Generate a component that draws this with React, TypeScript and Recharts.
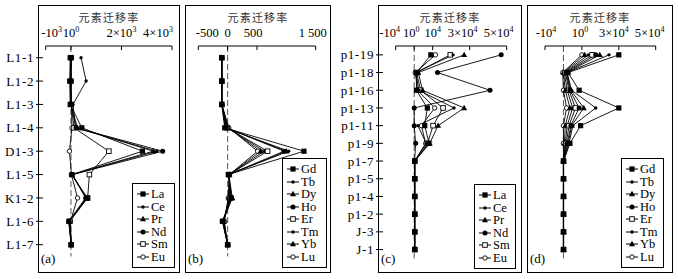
import { LineChart, Line, XAxis, YAxis, ReferenceLine, Legend } from "recharts";

const SERIF = "'Liberation Serif', 'Times New Roman', serif";
const CJK = "'Noto Sans CJK SC', sans-serif";

// sample sites, top to bottom
const SITES_AB = ["L1-1", "L1-2", "L1-3", "L1-4", "D1-3", "L1-5", "K1-2", "L1-6", "L1-7"];
const SITES_CD = ["p1-19", "p1-18", "p1-16", "p1-13", "p1-11", "p1-9", "p1-7", "p1-5", "p1-4", "p1-2", "J-3", "J-1"];

const LREE = ["La", "Ce", "Pr", "Nd", "Sm", "Eu"];
const HREE = ["Gd", "Tb", "Dy", "Ho", "Er", "Tm", "Yb", "Lu"];
const LREE_MARKS = ["sq", "dot", "tri", "circ", "osq", "ocirc"];
const HREE_MARKS = ["sq", "dot", "tri", "circ", "osq", "dot", "tri", "ocirc"];

// (a) light REE
const A_LA = [-30, -50, -30, 430, 2830, 40, 650, -80, 10];
const A_CE = [400, 600, 80, 180, 3400, 60, 600, -60, 10];
const A_PR = [-10, -20, -10, 260, 3260, 30, 620, -70, 10];
const A_ND = [0, -10, 0, 200, 3630, 50, 580, -90, 10];
const A_SM = [10, 0, 10, 120, 1500, 730, 660, -40, 10];
const A_EU = [20, 10, 20, 40, -60, 20, 260, -20, 10];

// (b) heavy REE
const B_GD = [-100, -100, -100, -50, 1300, 10, 60, -90, 0];
const B_TB = [-100, -100, -100, -40, 1040, 15, 70, -85, 0];
const B_DY = [-100, -100, -100, -30, 1000, 20, 80, -80, 0];
const B_HO = [-100, -100, -100, -20, 960, 20, 50, -80, 0];
const B_ER = [-100, -100, -100, -10, 680, 25, 40, -70, 0];
const B_TM = [-100, -100, -100, 0, 620, 25, 30, -70, 0];
const B_YB = [-100, -100, -100, 10, 560, 30, 20, -60, 0];
const B_LU = [-100, -100, -100, 20, 510, 30, 10, -60, 0];

// (c) light REE
const C_LA = [9000, 1500, 1200, 7100, 5700, 8000, 300, 300, 300, 300, 300, 300];
const C_CE = [21000, 800, 2500, 21500, 2000, 6500, 250, 250, 250, 250, 250, 250];
const C_PR = [27000, 2200, 4500, 27000, 12900, 8400, 300, 300, 300, 300, 300, 300];
const C_ND = [47000, 12600, 41000, 0, 0, 800, 200, 200, 200, 200, 200, 200];
const C_SM = [19500, 1200, 3500, 15600, 10200, 7200, 300, 300, 300, 300, 300, 300];
const C_EU = [11500, 600, 1800, 11100, 3900, 6200, 250, 250, 250, 250, 250, 250];

// (d) heavy REE
const D_GD = [30000, 2500, 8500, 30000, 9300, 3500, 100, 100, 100, 100, 100, 100];
const D_TB = [24700, 2000, 4400, 17500, 5100, 3000, 50, 50, 50, 50, 50, 50];
const D_DY = [19700, 1800, 4000, 11000, 4500, 2500, 50, 50, 50, 50, 50, 50];
const D_HO = [17500, 1500, 3500, 8500, 4000, 2000, 0, 0, 0, 0, 0, 0];
const D_ER = [15500, 1000, 3000, 6500, 3000, 1500, 0, 0, 0, 0, 0, 0];
const D_TM = [13500, 500, 2000, 5000, 2000, 1000, 0, 0, 0, 0, 0, 0];
const D_YB = [11500, 0, 1000, 3500, 1000, 500, 0, 0, 0, 0, 0, 0];
const D_LU = [10000, -400, 0, 1700, 0, 0, 0, 0, 0, 0, 0, 0];

// x ticks and their labels [base, superscript]
const A_TICKS = [-1000, 0, 2000, 4000];
const A_TICK_TEXT = [["-10", "3"], ["10", "0"], ["2×10", "3"], ["4×10", "3"]];
const B_TICKS = [-500, 0, 500, 1500];
const B_TICK_TEXT = [["-500", ""], ["0", ""], ["500", ""], ["1 500", ""]];
const C_TICKS = [-10000, 0, 10000, 30000, 50000];
const C_TICK_TEXT = [["-10", "4"], ["10", "0"], ["10", "4"], ["3×10", "4"], ["5×10", "4"]];
const D_TICKS = [-10000, 10000, 30000, 50000];
const D_TICK_TEXT = [["-10", "4"], ["10", "0"], ["3×10", "4"], ["5×10", "4"]];

const TITLE = "元素迁移率";

function buildRows(sites: string[], names: string[], cols: number[][]) {
  return sites.map((site, i) => {
    const row: Record<string, string | number> = { site };
    names.forEach((n, j) => (row[n] = cols[j][i]));
    return row;
  });
}

function Marker({ cx, cy, shape }: { cx?: number; cy?: number; shape: string }) {
  if (cx == null || cy == null) return null;
  switch (shape) {
    case "sq":
      return <rect x={cx - 2.6} y={cy - 2.6} width={5.2} height={5.2} fill="#000" />;
    case "osq":
      return <rect x={cx - 2.3} y={cy - 2.3} width={4.6} height={4.6} fill="#fff" stroke="#000" strokeWidth={0.9} />;
    case "tri":
      return <path d={`M${cx},${cy - 3.2}L${cx + 3},${cy + 2.2}L${cx - 3},${cy + 2.2}Z`} fill="#000" />;
    case "circ":
      return <circle cx={cx} cy={cy} r={2.5} fill="#000" />;
    case "dot":
      return <circle cx={cx} cy={cy} r={1.7} fill="#000" />;
    default:
      return <circle cx={cx} cy={cy} r={2.2} fill="#fff" stroke="#000" strokeWidth={0.9} />;
  }
}

function XTick(props: any) {
  const { x, y, payload, ticks, labels, shifts } = props;
  const i = ticks.indexOf(payload.value);
  const lab = labels[i] || ["", ""];
  return (
    <g>
      <line x1={x} x2={x} y1={y} y2={y + 4} stroke="#000" strokeWidth={1} />
      <text x={x + (shifts[i] || 0)} y={y - 9} textAnchor="middle" fontFamily={SERIF} fontSize={12.5} fill="#000">
        {lab[0]}
        {lab[1] ? (
          <tspan dy={-5} fontSize={8}>
            {lab[1]}
          </tspan>
        ) : null}
      </text>
    </g>
  );
}

function YTick(props: any) {
  const { x, y, payload, gap } = props;
  const fx = x - gap;
  return (
    <g>
      <line x1={fx - 2} x2={fx + 5} y1={y} y2={y} stroke="#000" strokeWidth={1} />
      <text x={fx - 4} y={y} dy="0.35em" textAnchor="end" fontFamily={SERIF} fontSize={13} letterSpacing={0.6} fill="#000">
        {payload.value}
      </text>
    </g>
  );
}

function LegendBox({ names, marks }: { names: string[]; marks: string[] }) {
  return (
    <div style={{ border: "1px solid #000", background: "#fff", boxSizing: "border-box", padding: "4px 0 4px 4px" }}>
      {names.map((n, i) => (
        <div key={n} style={{ display: "flex", alignItems: "center", height: 12.5, fontFamily: SERIF, fontSize: 12.5, lineHeight: "12.5px" }}>
          <svg width={12} height={8} style={{ display: "block" }}>
            <line x1={0} x2={12} y1={4} y2={4} stroke="#000" strokeWidth={1} />
            <Marker cx={6} cy={4} shape={marks[i]} />
          </svg>
          <span style={{ marginLeft: 2 }}>{n}</span>
        </div>
      ))}
    </div>
  );
}

type PanelProps = {
  rows: Record<string, string | number>[];
  names: string[];
  marks: string[];
  domain: [number, number];
  ticks: number[];
  labels: string[][];
  shifts: number[];
  svg: [number, number];
  frame: [number, number];
  plot: { left: number; right: number; top: number; bottom: number };
  legend: { left: number; top: number; width: number };
  tag: string;
};

function Panel(p: PanelProps) {
  const width = p.svg[1] - p.svg[0];
  const labelled = p.svg[0] < p.frame[0];
  const center = (p.frame[0] + p.frame[1]) / 2;
  const halfBand = (p.plot.bottom - p.plot.top) / p.rows.length / 2;
  // draw the first element last so its marker sits on top, as in the figure
  const order = p.names.map((n, i) => i).reverse();
  return (
    <>
      <div
        style={{
          position: "absolute",
          left: p.frame[0],
          top: 5,
          width: p.frame[1] - p.frame[0],
          height: 268,
          border: "1px solid #000",
          boxSizing: "border-box",
        }}
      />
      <div
        style={{
          position: "absolute",
          left: center - 45,
          width: 90,
          top: 9,
          textAlign: "center",
          fontFamily: CJK,
          fontSize: 11,
          lineHeight: "16px",
          letterSpacing: 1.2,
          color: "#333",
        }}
      >
        {TITLE}
      </div>
      <div style={{ position: "absolute", left: p.svg[0], top: 0 }}>
        <LineChart
          width={width}
          height={279}
          data={p.rows}
          layout="vertical"
          margin={{ top: 0, left: 0, right: p.svg[1] - p.plot.right, bottom: 279 - p.plot.bottom }}
        >
          <XAxis
            type="number"
            orientation="top"
            domain={p.domain}
            ticks={p.ticks}
            interval={0}
            allowDataOverflow
            height={p.plot.top}
            axisLine={{ stroke: "#000", strokeWidth: 1 }}
            tickLine={false}
            tickSize={0}
            tickMargin={0}
            tick={<XTick ticks={p.ticks} labels={p.labels} shifts={p.shifts} />}
          />
          <YAxis
            type="category"
            dataKey="site"
            width={p.plot.left - p.svg[0]}
            padding={{ top: halfBand, bottom: halfBand }}
            axisLine={false}
            tickLine={false}
            tickSize={0}
            tickMargin={0}
            interval={0}
            tick={labelled ? <YTick gap={p.plot.left - p.frame[0]} /> : false}
          />
          <ReferenceLine x={0} stroke="#555" strokeWidth={1} strokeDasharray="6 3" />
          {order.map((i) => {
            const n = p.names[i];
            return (
              <Line
                key={n}
                dataKey={n}
                stroke="#000"
                strokeWidth={0.9}
                activeDot={false}
                isAnimationActive={false}
                dot={(d: any) => <Marker key={`${n}-${d.index}`} cx={d.cx} cy={d.cy} shape={p.marks[i]} />}
              />
            );
          })}
          <Legend
            layout="vertical"
            align="center"
            verticalAlign="middle"
            wrapperStyle={{ left: p.legend.left - p.svg[0], top: p.legend.top, width: p.legend.width }}
            content={() => <LegendBox names={p.names} marks={p.marks} />}
          />
        </LineChart>
      </div>
      <div
        style={{
          position: "absolute",
          left: p.frame[0] + 3,
          top: 251,
          fontFamily: SERIF,
          fontSize: 13,
          lineHeight: "16px",
        }}
      >
        {p.tag}
      </div>
    </>
  );
}

export default function App() {
  const rowsA = buildRows(SITES_AB, LREE, [A_LA, A_CE, A_PR, A_ND, A_SM, A_EU]);
  const rowsB = buildRows(SITES_AB, HREE, [B_GD, B_TB, B_DY, B_HO, B_ER, B_TM, B_YB, B_LU]);
  const rowsC = buildRows(SITES_CD, LREE, [C_LA, C_CE, C_PR, C_ND, C_SM, C_EU]);
  const rowsD = buildRows(SITES_CD, HREE, [D_GD, D_TB, D_DY, D_HO, D_ER, D_TM, D_YB, D_LU]);

  return (
    <div style={{ position: "absolute", left: 0, top: 0, width: 678, height: 279, background: "#fff", overflow: "hidden" }}>
      <Panel
        rows={rowsA}
        names={LREE}
        marks={LREE_MARKS}
        domain={[-1000, 4000]}
        ticks={A_TICKS}
        labels={A_TICK_TEXT}
        shifts={[6, 0, 0, -14]}
        svg={[0, 180]}
        frame={[38, 180]}
        plot={{ left: 45.7, right: 172, top: 46, bottom: 256.4 }}
        legend={{ left: 132, top: 183, width: 43 }}
        tag="(a)"
      />
      <Panel
        rows={rowsB}
        names={HREE}
        marks={HREE_MARKS}
        domain={[-500, 1500]}
        ticks={B_TICKS}
        labels={B_TICK_TEXT}
        shifts={[9, 0, -4, -3]}
        svg={[185, 331]}
        frame={[185, 331]}
        plot={{ left: 198.3, right: 315.7, top: 46, bottom: 256.4 }}
        legend={{ left: 282, top: 158, width: 45 }}
        tag="(b)"
      />
      <Panel
        rows={rowsC}
        names={LREE}
        marks={LREE_MARKS}
        domain={[-10000, 50000]}
        ticks={C_TICKS}
        labels={C_TICK_TEXT}
        shifts={[-6, -3, 0, -7, -8]}
        svg={[340, 522]}
        frame={[378, 522]}
        plot={{ left: 395.7, right: 506.7, top: 46, bottom: 258.4 }}
        legend={{ left: 474, top: 184, width: 42 }}
        tag="(c)"
      />
      <Panel
        rows={rowsD}
        names={HREE}
        marks={HREE_MARKS}
        domain={[-10000, 50000]}
        ticks={D_TICKS}
        labels={D_TICK_TEXT}
        shifts={[1, -2, -5, -6]}
        svg={[527, 673]}
        frame={[527, 673]}
        plot={{ left: 545, right: 655.7, top: 46, bottom: 258.4 }}
        legend={{ left: 621, top: 158, width: 43 }}
        tag="(d)"
      />
    </div>
  );
}
